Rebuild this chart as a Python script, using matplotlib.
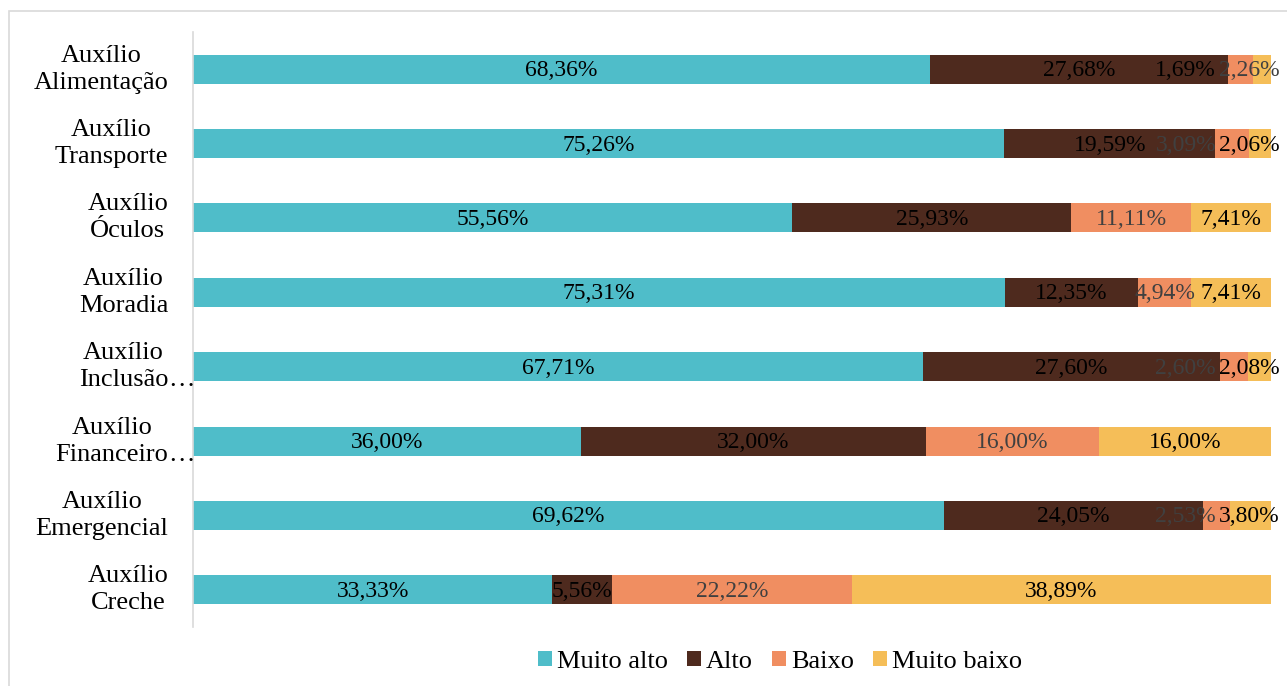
import matplotlib.pyplot as plt
from matplotlib.patches import Rectangle

# categories, top to bottom
categories = ['Auxílio\nAlimentação', 'Auxílio\nTransporte', 'Auxílio\nÓculos',
              'Auxílio\nMoradia', 'Auxílio\nInclusão', 'Auxílio\nFinanceiro',
              'Auxílio\nEmergencial', 'Auxílio\nCreche']
truncated = [False, False, False, False, True, True, False, False]

series = ['Muito alto', 'Alto', 'Baixo', 'Muito baixo']
muito_alto = [68.36, 75.26, 55.56, 75.31, 67.71, 36.00, 69.62, 33.33]
alto = [27.68, 19.59, 25.93, 12.35, 27.60, 32.00, 24.05, 5.56]
baixo = [2.26, 3.09, 11.11, 4.94, 2.60, 16.00, 2.53, 22.22]
muito_baixo = [1.69, 2.06, 7.41, 7.41, 2.08, 16.00, 3.80, 38.89]

colors = ['#4FBDC9', '#4E2A1E', '#F08E61', '#F5BE58']
label_colors = ['black', 'black', '#404040', 'black']

# rows where the two small labels sit side by side: which series goes on the left
small_left = {0: 3, 1: 2, 4: 2, 6: 2}

plt.rcParams['font.family'] = ['Liberation Serif', 'DejaVu Serif']

fig = plt.figure(figsize=(12.87, 6.86), dpi=100)
ax = fig.add_axes([193 / 1287, 1 - 627 / 686, (1271 - 193) / 1287, 595 / 686])

# chart border
fig.patches.append(Rectangle((9 / 1287, -0.05), 1.2, 1 - 11 / 686 + 0.05,
                             transform=fig.transFigure, fill=False,
                             edgecolor='#D9D9D9', linewidth=1.2))

data = [muito_alto, alto, baixo, muito_baixo]
y = list(range(len(categories)))
left = [0.0] * len(categories)
fs = 17
for s, (name, vals) in enumerate(zip(series, data)):
    ax.barh(y, vals, left=left, height=0.39, color=colors[s], label=name)
    for i, v in enumerate(vals):
        txt = '{:.2f}%'.format(v).replace('.', ',')
        yy = i + 0.02
        if i in small_left and s >= 2:
            if small_left[i] == s:
                ax.text(94.9, yy, txt, ha='right', va='center', fontsize=fs,
                        color=label_colors[s])
            else:
                ax.text(95.2, yy, txt, ha='left', va='center', fontsize=fs,
                        color=label_colors[s])
        else:
            ax.text(left[i] + v / 2, yy, txt, ha='center', va='center',
                    fontsize=fs, color=label_colors[s])
    left = [a + b for a, b in zip(left, vals)]

ax.set_xlim(0, 100)
ax.set_ylim(len(categories) - 0.5, -0.5)
ax.set_xticks([])
ax.set_yticks(y)
ax.set_yticklabels([])
ax.tick_params(axis='y', length=0)
for side in ['top', 'right', 'bottom']:
    ax.spines[side].set_visible(False)
ax.spines['left'].set_color('#D9D9D9')
ax.spines['left'].set_linewidth(1.2)

# category labels
for i, (cat, tr) in enumerate(zip(categories, truncated)):
    t = ax.text(-2.3, i, cat, ha='right', va='center', multialignment='center',
                fontsize=19, linespacing=1.3)
    if tr:
        ax.annotate('…', xy=(1, 0), xycoords=t, ha='left', va='bottom',
                    fontsize=19)

ax.legend(loc='center', bbox_to_anchor=(780 / 1287, 1 - 662 / 686),
          bbox_transform=fig.transFigure, ncol=4, frameon=False, fontsize=19,
          handlelength=0.52, handleheight=0.52, handletextpad=0.2,
          columnspacing=0.72, borderpad=0)

fig.savefig('out.png', dpi=100)
